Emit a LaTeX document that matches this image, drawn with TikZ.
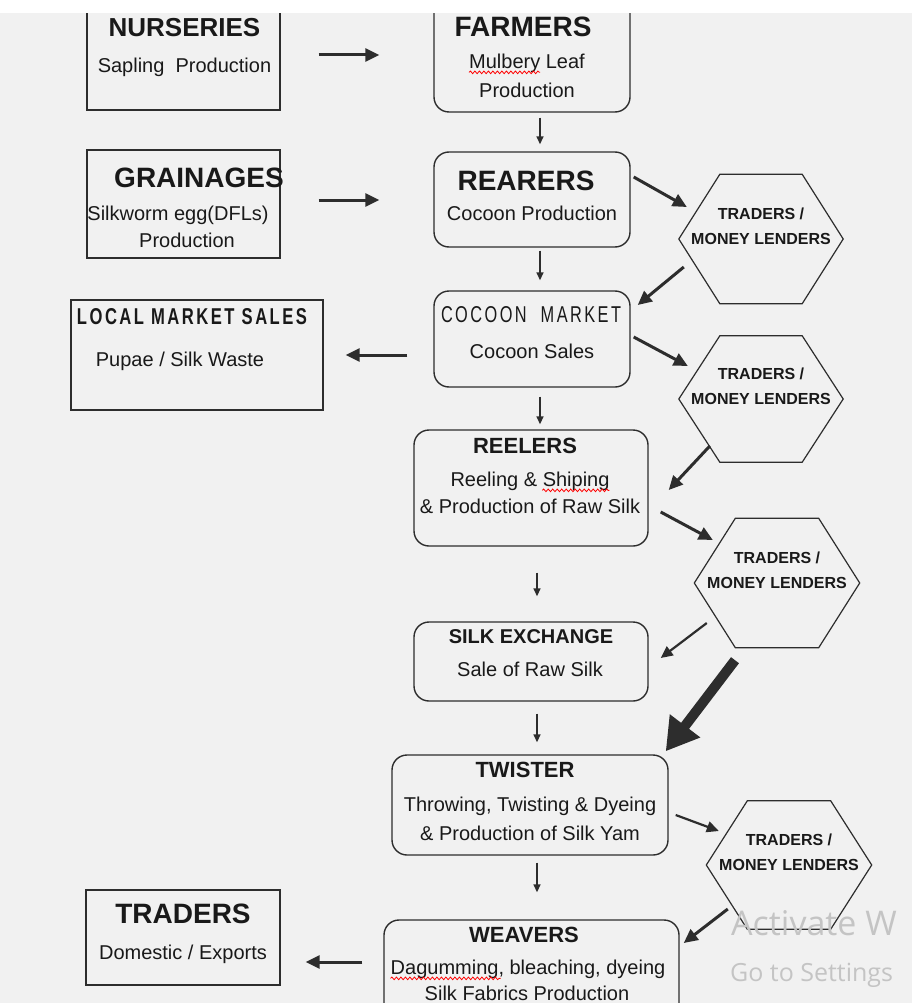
\documentclass[tikz,border=0pt]{standalone}
\usepackage{fontspec}
\setmainfont{Liberation Sans}
\newfontfamily\winfont{Open Sans}
\usepackage{graphicx}
\usetikzlibrary{arrows.meta,calc,decorations.pathmorphing}
\definecolor{bgc}{RGB}{241,241,241}
\definecolor{linec}{RGB}{45,45,45}
\definecolor{textc}{RGB}{25,25,25}
\definecolor{winc}{RGB}{196,196,196}
\tikzset{
  sqbox/.style={draw=linec, line width=1.4pt, inner sep=0pt},
  rbox/.style={sqbox, rounded corners=15pt},
  hexn/.style={inner sep=0pt, minimum width=164pt, minimum height=128pt},
  hexline/.style={draw=linec, line width=1.2pt},
  body/.style={inner sep=0pt, text=textc, font=\fontsize{20}{24}\selectfont, text height=14.3pt, text depth=0pt},
  headl/.style={inner sep=0pt, text=textc, font=\fontsize{28}{32}\selectfont\bfseries, text height=20pt, text depth=0pt},
  headm/.style={inner sep=0pt, text=textc, font=\fontsize{26}{30}\selectfont\bfseries, text height=18.6pt, text depth=0pt},
  heads/.style={inner sep=0pt, text=textc, font=\fontsize{22}{26}\selectfont\bfseries, text height=15.8pt, text depth=0pt},
  headxs/.style={inner sep=0pt, text=textc, font=\fontsize{20}{24}\selectfont\bfseries, text height=14.3pt, text depth=0pt},
  hextxt/.style={inner sep=0pt, text=textc, font=\fontsize{16}{25}\selectfont\bfseries, align=center},
  arr/.style={draw=linec, -{Triangle[length=14pt,width=13pt]}, line width=3pt},
  arrm/.style={draw=linec, -{Triangle[length=12pt,width=11pt]}, line width=2.2pt},
  arrt/.style={draw=linec, -{Triangle[length=8pt,width=7pt]}, line width=1.5pt},
  arrbig/.style={draw=linec, -{Triangle[length=32pt,width=36pt]}, line width=10pt},
  squig/.style={draw=red, line width=0.8pt, decorate, decoration={snake, amplitude=1.3pt, segment length=4.5pt}},
  wm/.style={inner sep=0pt, text=winc, anchor=base west}
}
\begin{document}
\begin{tikzpicture}[x=1pt,y=-1pt]
\useasboundingbox (0,0) rectangle (912,1003);
\clip (0,0) rectangle (912,1003);
\fill[bgc] (0,0) rectangle (912,1003);

% boxes
\node[sqbox, minimum width=193pt, minimum height=120pt] (nurs) at (183.5,50) {};
\node[rbox, minimum width=196pt, minimum height=132pt] (farm) at (532,46) {};
\node[sqbox, minimum width=193pt, minimum height=108pt] (grain) at (183.5,204) {};
\node[rbox, minimum width=196pt, minimum height=95pt] (rear) at (532,199.5) {};
\node[rbox, minimum width=196pt, minimum height=96pt] (coc) at (532,339) {};
\node[sqbox, minimum width=252pt, minimum height=110pt] (loc) at (197,355) {};
\node[rbox, minimum width=234pt, minimum height=116pt] (reel) at (531,488) {};
\node[rbox, minimum width=234pt, minimum height=79pt] (silk) at (531,661.5) {};
\node[rbox, minimum width=276pt, minimum height=100pt] (twist) at (530,805) {};
\node[rbox, minimum width=295pt, minimum height=110pt] (weav) at (531.5,975) {};
\node[sqbox, minimum width=194pt, minimum height=95pt] (trad) at (183,937.5) {};

% hexagons
\node[hexn, minimum width=164pt, minimum height=129pt] (h1) at (761,239) {};
\node[hexn, minimum width=164pt, minimum height=126pt] (h2) at (761,399) {};
\node[hexn, minimum width=165pt, minimum height=129pt] (h3) at (777,583) {};
\node[hexn, minimum width=165pt, minimum height=128pt] (h4) at (789,865) {};
\foreach \h in {h1,h2,h3,h4}{
  \draw[hexline] (\h.west) -- ([xshift=41pt]\h.north west) -- ([xshift=-41pt]\h.north east)
    -- (\h.east) -- ([xshift=-41pt]\h.south east) -- ([xshift=41pt]\h.south west) -- cycle;
  \node[hextxt] (\h t) at ([yshift=13pt]\h.center) {TRADERS /\\MONEY LENDERS};
}

% texts
\node[headm] (nursT) at (184.5,27) {NURSERIES};
\node[body] (nursS) at (184.5,65) {Sapling~ Production};
\node[headl] (farmT) at (523,27) {FARMERS};
\node[body] (farmS1) at (527,61) {Mulbery Leaf};
\node[body] (farmS2) at (527,90) {Production};
\node[headl] (grainT) at (199,177) {GRAINAGES};
\node[body] (grainS1) at (178,213) {Silkworm egg(DFLs)};
\node[body] (grainS2) at (187,240) {Production};
\node[headl] (rearT) at (526,180) {REARERS};
\node[body] (rearS) at (532,213) {Cocoon Production};
\node[inner sep=0pt, text=textc] (cocT) at (531,315) {\resizebox{180pt}{16pt}{\addfontfeature{LetterSpace=15}COCOON\ \ MARKET}};
\node[body] (cocS) at (532,351) {Cocoon Sales};
\node[inner sep=0pt, text=textc] (locT) at (192,317) {\resizebox{230pt}{16pt}{\bfseries\addfontfeature{LetterSpace=15}LOCAL MARKET SALES}};
\node[body] (locS) at (180,359) {Pupae / Silk Waste};
\node[heads] (reelT) at (525,446) {REELERS};
\node[body] (reelS1) at (530,479) {Reeling \& Shiping};
\node[body] (reelS2) at (530,506) {\& Production of Raw Silk};
\node[headxs] (silkT) at (531,636) {SILK EXCHANGE};
\node[body] (silkS) at (530,669) {Sale of Raw Silk};
\node[heads] (twT) at (525,770) {TWISTER};
\node[body] (twS1) at (530,804) {Throwing, Twisting \& Dyeing};
\node[body] (twS2) at (530,833) {\& Production of Silk Yam};
\node[heads] (wvT) at (524,935) {WEAVERS};
\node[body] (wvS1) at (528,967) {Dagumming, bleaching, dyeing};
\node[body] (wvS2) at (527,993) {Silk Fabrics Production};
\node[headl] (trT) at (183,913) {TRADERS};
\node[body] (trS) at (183,952) {Domestic / Exports};

% spell-check squiggles
\draw[squig] ($(farmS1.south west)+(0,4)$) -- ++(71,0);
\draw[squig] ($(reelS1.south west)+(92,4)$) -- ++(67,0);
\draw[squig] ($(wvS1.south west)+(0,4)$) -- ++(110,0);

% arrows
\draw[arr] ($(nurs.east)+(38,5)$) -- ($(farm.west)+(-54,9)$);
\draw[arr] ($(grain.east)+(38,-4)$) -- ($(rear.west)+(-54,0.5)$);
\draw[arrt] ($(farm.south)+(8,5)$) -- ($(rear.north)+(8,-7)$);
\draw[arr] ($(rear.east)+(3,-22.5)$) -- ($(h1.west)+(8,-32)$);
\draw[arr] ($(h1.west)+(5,28)$) -- ($(coc.east)+(7,-34)$);
\draw[arrt] ($(rear.south)+(8,3)$) -- ($(coc.north)+(8,-10)$);
\draw[arr] ($(coc.east)+(3,-2)$) -- ($(h2.west)+(9,-33)$);
\draw[arr] ($(coc.west)+(-26,16)$) -- ($(loc.east)+(22,0)$);
\draw[arrt] ($(coc.south)+(8,9)$) -- ($(reel.north)+(9,-5)$);
\draw[arr] ($(h2.west)+(31,47)$) -- ($(reel.east)+(20,2)$);
\draw[arr] ($(reel.east)+(12,24)$) -- ($(h3.west)+(18.5,-43)$);
\draw[arrt] ($(reel.south)+(6,26)$) -- ($(silk.north)+(6,-25)$);
\draw[arrm] ($(h3.west)+(12.5,40)$) -- ($(silk.east)+(12,-3.5)$);
\draw[arrbig] ($(h3.south)+(-42,12.5)$) -- ($(twist.north east)+(-3,-3)$);
\draw[arrt] ($(silk.south)+(6,12)$) -- ($(twist.north)+(7,-12)$);
\draw[arrm] ($(twist.east)+(7,10)$) -- ($(h4.west)+(12.5,-34)$);
\draw[arrt] ($(twist.south)+(7,7)$) -- ($(weav.north)+(5.5,-27)$);
\draw[arr] ($(h4.west)+(21.5,44)$) -- ($(weav.east)+(4,-32)$);
\draw[arr] ($(weav.west)+(-21,-13)$) -- ($(trad.east)+(25,24.5)$);

% top white band
\fill[white] (0,0) rectangle (912,13);

% watermark
\node[wm, font=\winfont\fontsize{34}{40}\selectfont] (wm1) at (731,935) {Activate W};
\node[wm, font=\winfont\fontsize{25}{30}\selectfont] (wm2) at (730,981) {Go to Settings};
\end{tikzpicture}
\end{document}
